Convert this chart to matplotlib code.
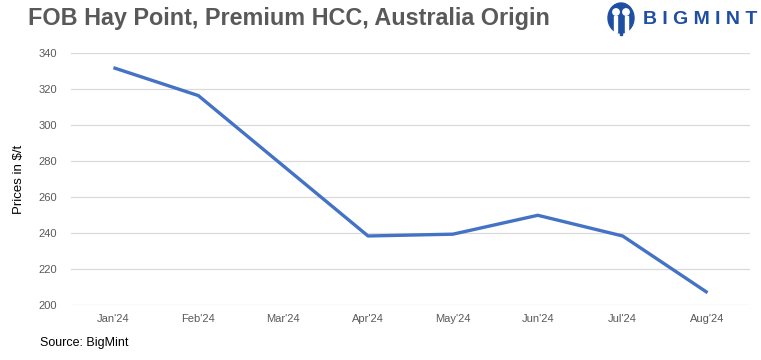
import numpy as np
import matplotlib.pyplot as plt
from matplotlib.patches import Ellipse, Rectangle, Circle

# ==================== DATOS ====================
meses = ["Jan'24", "Feb'24", "Mar'24", "Apr'24", "May'24", "Jun'24", "Jul'24", "Aug'24"]
precios = [332, 316.5, 277.5, 238.5, 239.5, 250, 238.5, 207]
yticks = [200, 220, 240, 260, 280, 300, 320, 340]

narrow = ['Liberation Sans Narrow', 'Liberation Sans', 'DejaVu Sans']
gris = '#595959'

fig = plt.figure(figsize=(7.61, 3.6), dpi=100)
ax = fig.add_axes([0.0933, 0.152, 0.8922, 0.70])

x = np.arange(len(meses))
ax.plot(x, precios, color='#4472C4', linewidth=2.4, solid_capstyle='butt')

ax.set_xlim(-0.5, len(meses) - 0.5)
ax.set_ylim(200, 340)
ax.set_yticks(yticks)
ax.set_xticks(x)
ax.set_xticklabels(meses)
for s in ax.spines.values():
    s.set_visible(False)
ax.grid(True, axis='y', color='#D9D9D9', linewidth=0.9)
ax.set_axisbelow(True)
ax.tick_params(length=0, labelsize=8, labelcolor=gris, pad=6)
ax.tick_params(axis='y', pad=10)
for lab in ax.get_xticklabels() + ax.get_yticklabels():
    lab.set_family(narrow)

ax.set_ylabel("Prices in $/t", fontsize=9.5, family=['Liberation Sans', 'DejaVu Sans'], labelpad=10)

# titulo
fig.text(28 / 761, 1 - 19 / 360, "FOB Hay Point, Premium HCC, Australia Origin",
         fontsize=16.8, fontweight='bold', color=gris, family=narrow, va='center', ha='left')

# fuente
fig.text(40 / 761, 1 - 343 / 360, "Source: BigMint", fontsize=9,
         family=['Liberation Sans', 'DejaVu Sans'], va='center', ha='left')

# logo BIGMINT
azul = '#1F4FA3'
lx = fig.add_axes([603 / 761, 1 - 38 / 360, 36 / 761, 36 / 360])
lx.set_xlim(0, 36)
lx.set_ylim(0, 36)
lx.axis('off')
lx.add_patch(Ellipse((18, 20), 26, 30, color=azul))
lx.add_patch(Circle((13, 26), 3.2, color='white'))
lx.add_patch(Circle((23, 26), 3.2, color='white'))
lx.add_patch(Rectangle((10.5, 6), 3, 16, color='white'))
lx.add_patch(Rectangle((22.5, 6), 3, 16, color='white'))
lx.add_patch(Rectangle((17, 3), 2, 10, color=azul))
fig.text(643 / 761, 1 - 19 / 360, "B I G M I N T", fontsize=14, fontweight='heavy',
         color=azul, family=['Liberation Sans', 'DejaVu Sans'], va='center', ha='left')

plt.savefig('out.png', dpi=100)
